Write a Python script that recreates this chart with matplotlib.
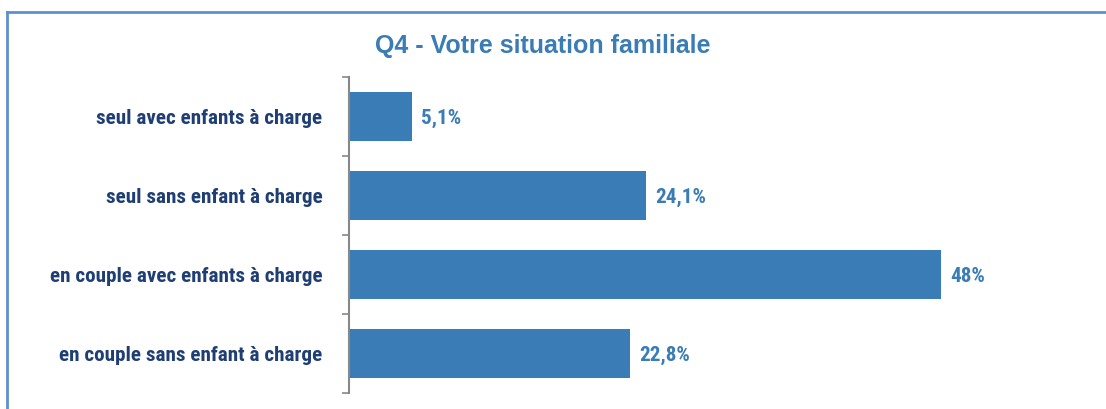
import matplotlib
matplotlib.use("Agg")
import matplotlib.pyplot as plt
from matplotlib.lines import Line2D
from matplotlib import font_manager

categories = ["seul avec enfants à charge",
              "seul sans enfant à charge",
              "en couple avec enfants à charge",
              "en couple sans enfant à charge"]
values = [5.1, 24.1, 48.0, 22.8]
value_labels = ["5,1%", "24,1%", "48%", "22,8%"]
title = "Q4 - Votre situation familiale"

W, H = 1106, 409

# pick a condensed face if one is installed
names = sorted({f.name for f in font_manager.fontManager.ttflist})
narrow_name = None
for pref in ["Liberation Sans Narrow", "Arial Narrow", "Roboto Condensed",
             "Open Sans Condensed", "DejaVu Sans Condensed", "Noto Sans Condensed"]:
    if pref in names:
        narrow_name = pref
        break
if narrow_name is None:
    for n in names:
        if "Narrow" in n or "Condensed" in n:
            narrow_name = n
            break
if narrow_name is None:
    narrow_name = "Roboto"
narrow = [narrow_name, "DejaVu Sans"]

label_size = 15.2
value_size = 15.2

fig = plt.figure(figsize=(W / 100, H / 100), dpi=100)

bar_color = "#3a7cb6"
label_color = "#1f3e73"

# outer frame (top and left edges visible)
fig.add_artist(Line2D([7 / W, 7 / W], [0, 1 - 12 / H], color="#5d90cf", lw=2, transform=fig.transFigure))
fig.add_artist(Line2D([7 / W, 1], [1 - 12 / H, 1 - 12 / H], color="#5d90cf", lw=2, transform=fig.transFigure))

left, right = 349 / W, 1089 / W
bottom, top = 16 / H, 332 / H
ax = fig.add_axes([left, bottom, right - left, top - bottom])

y = list(range(len(categories)))
ax.barh(y, values, height=0.61, color=bar_color)
ax.set_ylim(len(categories) - 0.5, -0.5)
ax.set_xlim(0, 60)

for yi, v, lab in zip(y, values, value_labels):
    ax.annotate(lab, (v, yi), xytext=(6.5, -1.5), textcoords="offset points",
                va="center", ha="left", color=bar_color, fontsize=value_size,
                fontweight="bold", family=narrow)

ax.set_yticks([i - 0.5 for i in range(len(categories) + 1)])
ax.set_yticklabels([])
ax.set_yticks(y, minor=True)
ax.set_yticklabels(categories, minor=True, fontsize=label_size, fontweight="bold",
                   color=label_color, family=narrow)
ax.tick_params(axis="y", which="major", length=5, width=1.2, color="#888888", direction="out")
ax.tick_params(axis="y", which="minor", length=0, pad=19)
ax.set_xticks([])
for s in ["top", "right", "bottom"]:
    ax.spines[s].set_visible(False)
ax.spines["left"].set_color("#888888")
ax.spines["left"].set_linewidth(1.5)

fig.text(543 / W, 1 - 46.5 / H, title, ha="center", va="center", fontsize=18,
         fontweight="bold", color="#3a7cb6", family=["Liberation Sans", "DejaVu Sans"])

fig.savefig("out.png", dpi=100)
